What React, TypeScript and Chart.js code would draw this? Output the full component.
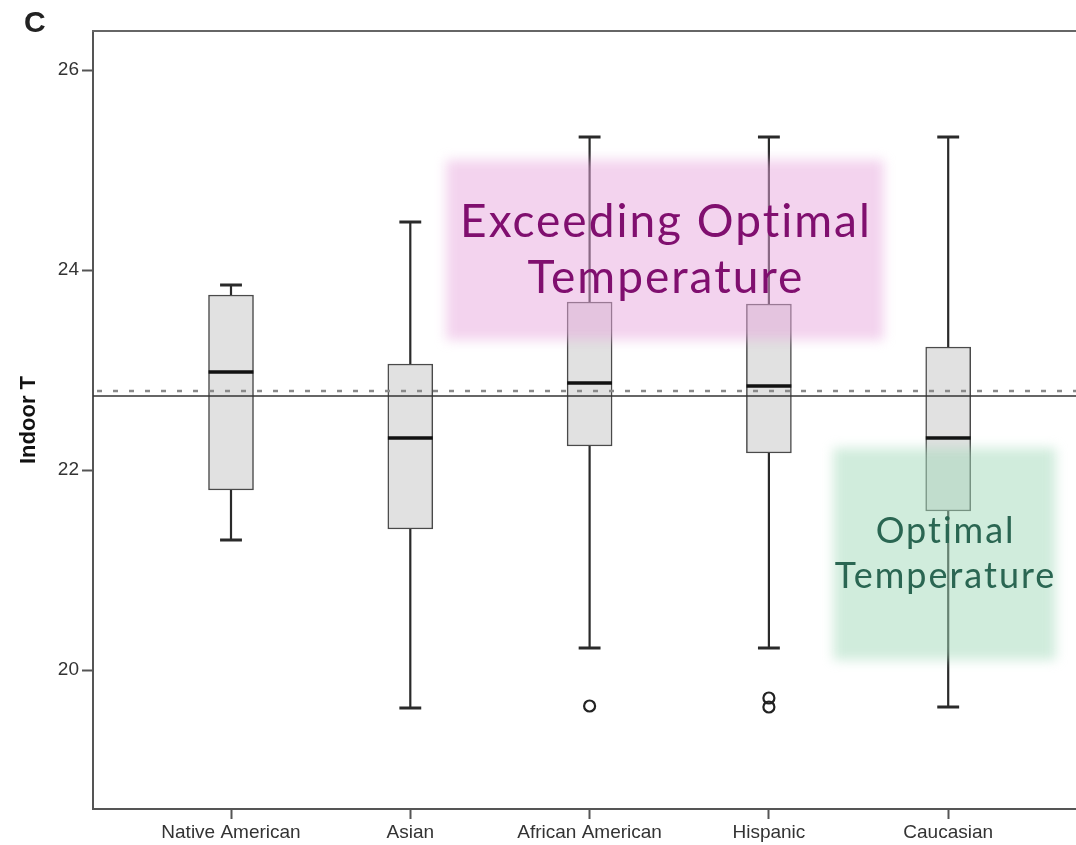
import React, { useEffect, useRef } from "react";
import { Chart, registerables } from "chart.js";

Chart.register(...registerables);

// ---- Data ----
const categories = ["Native American", "Asian", "African American", "Hispanic", "Caucasian"];
const whiskerLow = [21.3, 19.62, 20.22, 20.22, 19.63];
const q1 = [21.8, 21.41, 22.24, 22.17, 21.59];
const median = [22.98, 22.32, 22.87, 22.84, 22.32];
const q3 = [23.75, 23.06, 23.68, 23.66, 23.23];
const whiskerHigh = [23.85, 24.48, 25.33, 25.33, 25.33];
const outlierCategory = [2, 3, 3];
const outlierValues = [19.64, 19.72, 19.63];
const yTickValues = [20, 22, 24, 26];
const refLineSolid = 22.74;
const refLineDotted = 22.79;
const exceedingLabel = ["Exceeding Optimal", "Temperature"];
const optimalLabel = ["Optimal", "Temperature"];
// annotation regions in data units [xMin, xMax, yMin, yMax]
const exceedingRegion = [1.2, 3.64, 23.3, 25.1];
const optimalRegion = [3.36, 4.6, 20.1, 22.22];

const boxPlotPlugin = {
  id: "boxPlotExtras",
  beforeDatasetsDraw(chart: any) {
    const { ctx, scales } = chart;
    const x = scales.x;
    const y = scales.y;
    ctx.save();
    categories.forEach((_, i) => {
      const cx = x.getPixelForValue(i);
      const capHalf = Math.abs(x.getPixelForValue(i + 0.061) - cx);
      ctx.strokeStyle = "#2a2a2a";
      ctx.lineWidth = 2.2;
      ctx.beginPath();
      ctx.moveTo(cx, y.getPixelForValue(whiskerLow[i]));
      ctx.lineTo(cx, y.getPixelForValue(q1[i]));
      ctx.moveTo(cx, y.getPixelForValue(q3[i]));
      ctx.lineTo(cx, y.getPixelForValue(whiskerHigh[i]));
      ctx.stroke();
      ctx.lineWidth = 3;
      ctx.beginPath();
      ctx.moveTo(cx - capHalf, y.getPixelForValue(whiskerLow[i]));
      ctx.lineTo(cx + capHalf, y.getPixelForValue(whiskerLow[i]));
      ctx.moveTo(cx - capHalf, y.getPixelForValue(whiskerHigh[i]));
      ctx.lineTo(cx + capHalf, y.getPixelForValue(whiskerHigh[i]));
      ctx.stroke();
    });
    ctx.restore();
  },
  afterDatasetsDraw(chart: any) {
    const { ctx, scales, chartArea } = chart;
    const x = scales.x;
    const y = scales.y;
    ctx.save();
    // medians
    categories.forEach((_, i) => {
      const cx = x.getPixelForValue(i);
      const half = Math.abs(x.getPixelForValue(i + 0.125) - cx);
      ctx.strokeStyle = "#111";
      ctx.lineWidth = 3.5;
      ctx.beginPath();
      ctx.moveTo(cx - half, y.getPixelForValue(median[i]));
      ctx.lineTo(cx + half, y.getPixelForValue(median[i]));
      ctx.stroke();
    });
    // reference lines
    ctx.strokeStyle = "#333";
    ctx.lineWidth = 1.5;
    ctx.beginPath();
    ctx.moveTo(chartArea.left, y.getPixelForValue(refLineSolid));
    ctx.lineTo(chartArea.right, y.getPixelForValue(refLineSolid));
    ctx.stroke();
    ctx.strokeStyle = "#8a8a8a";
    ctx.lineWidth = 2.5;
    ctx.setLineDash([5, 11]);
    ctx.beginPath();
    ctx.moveTo(chartArea.left + 4, y.getPixelForValue(refLineDotted));
    ctx.lineTo(chartArea.right, y.getPixelForValue(refLineDotted));
    ctx.stroke();
    ctx.setLineDash([]);
    // top frame line
    ctx.strokeStyle = "#666";
    ctx.lineWidth = 2;
    ctx.beginPath();
    ctx.moveTo(chartArea.left - 1, chartArea.top);
    ctx.lineTo(chartArea.right, chartArea.top);
    ctx.stroke();
    ctx.restore();
  },
  afterDraw(chart: any) {
    const { ctx, scales } = chart;
    const x = scales.x;
    const y = scales.y;
    const drawRegion = (
      r: number[],
      fill: string,
      textColor: string,
      lines: string[],
      fontSize: number,
      lineGap: number,
      spacing: number
    ) => {
      const x0 = x.getPixelForValue(r[0]);
      const x1 = x.getPixelForValue(r[1]);
      const y0 = y.getPixelForValue(r[3]);
      const y1 = y.getPixelForValue(r[2]);
      ctx.save();
      ctx.filter = "blur(6px)";
      ctx.fillStyle = fill;
      ctx.fillRect(x0, y0, x1 - x0, y1 - y0);
      ctx.restore();
      ctx.save();
      ctx.fillStyle = textColor;
      ctx.font = `400 ${fontSize}px Lato, "Noto Sans", sans-serif`;
      (ctx as any).letterSpacing = `${spacing}px`;
      ctx.textAlign = "center";
      ctx.textBaseline = "middle";
      const cx = (x0 + x1) / 2 + spacing / 2;
      const cy = (y0 + y1) / 2;
      const n = lines.length;
      lines.forEach((t, k) => {
        ctx.fillText(t, cx, cy + (k - (n - 1) / 2) * lineGap);
      });
      ctx.restore();
    };
    drawRegion(exceedingRegion, "rgba(231,167,221,0.5)", "#800f6f", exceedingLabel, 46, 56, 2);
    drawRegion(optimalRegion, "rgba(161,217,185,0.5)", "#2a6652", optimalLabel, 36, 45, 2);
    // panel letter
    ctx.save();
    ctx.fillStyle = "#222";
    ctx.font = 'bold 30px "Liberation Sans", Arial, sans-serif';
    ctx.textAlign = "left";
    ctx.textBaseline = "alphabetic";
    ctx.fillText("C", 24, 32);
    ctx.restore();
  },
};

export default function App() {
  const canvasRef = useRef<HTMLCanvasElement>(null);

  useEffect(() => {
    const canvas = canvasRef.current;
    if (!canvas) return;
    const catCenter0 = 231;
    const catStep = 179.3;
    const plotLeft = 93;
    const plotRight = 1076;
    const chart = new Chart(canvas, {
      type: "bar",
      data: {
        datasets: [
          {
            type: "bar",
            data: categories.map((_, i) => ({ x: i, y: [q1[i], q3[i]] })) as any,
            backgroundColor: "#e1e1e1",
            borderColor: "#4a4a4a",
            borderWidth: 1.5,
            borderSkipped: false,
            barThickness: 45,
          } as any,
          {
            type: "scatter",
            data: outlierValues.map((v, k) => ({ x: outlierCategory[k], y: v })),
            pointStyle: "circle",
            pointRadius: 5.5,
            pointBorderWidth: 2.2,
            pointBackgroundColor: "rgba(255,255,255,0)",
            pointBorderColor: "#222",
          } as any,
        ],
      },
      options: {
        responsive: false,
        animation: false,
        devicePixelRatio: 1,
        layout: { autoPadding: false, padding: { top: 31, left: 0, right: 0, bottom: 0 } },
        plugins: {
          legend: { display: false },
          tooltip: { enabled: false },
        },
        scales: {
          x: {
            type: "linear",
            offset: false,
            min: (plotLeft - catCenter0) / catStep,
            max: (plotRight - catCenter0) / catStep,
            afterBuildTicks: (scale: any) => {
              scale.ticks = categories.map((_, i) => ({ value: i }));
            },
            afterFit: (scale: any) => {
              scale.height = 36;
              scale.paddingLeft = 0;
              scale.paddingRight = 0;
            },
            ticks: {
              callback: (v: any) => categories[Math.round(Number(v))] ?? "",
              color: "#333",
              font: { family: '"Liberation Sans", Arial, sans-serif', size: 19 },
              padding: 2,
              maxRotation: 0,
              autoSkip: false,
            },
            grid: {
              offset: false,
              drawOnChartArea: false,
              drawTicks: true,
              tickLength: 10,
              tickWidth: 2,
              tickColor: "#555",
            },
            border: { display: true, color: "#555", width: 2 },
          },
          y: {
            type: "linear",
            min: 18.61,
            max: 26.39,
            afterBuildTicks: (scale: any) => {
              scale.ticks = yTickValues.map((v) => ({ value: v }));
            },
            afterFit: (scale: any) => {
              scale.width = 93;
            },
            ticks: {
              includeBounds: false,
              color: "#333",
              font: { family: '"Liberation Sans", Arial, sans-serif', size: 19 },
              padding: 3,
            },
            grid: {
              drawOnChartArea: false,
              drawTicks: true,
              tickLength: 11,
              tickWidth: 2,
              tickColor: "#555",
            },
            border: { display: true, color: "#555", width: 2 },
            title: {
              display: true,
              text: "Indoor T",
              color: "#111",
              font: { family: '"Liberation Sans", Arial, sans-serif', size: 22, weight: "bold" },
              padding: { top: 16, bottom: 0 },
            },
          },
        },
      } as any,
      plugins: [boxPlotPlugin],
    });
    return () => chart.destroy();
  }, []);

  return (
    <div style={{ position: "fixed", left: 0, top: 0, width: 1076, height: 845, background: "#fff" }}>
      <canvas ref={canvasRef} width={1076} height={845} style={{ width: 1076, height: 845 }} />
    </div>
  );
}
